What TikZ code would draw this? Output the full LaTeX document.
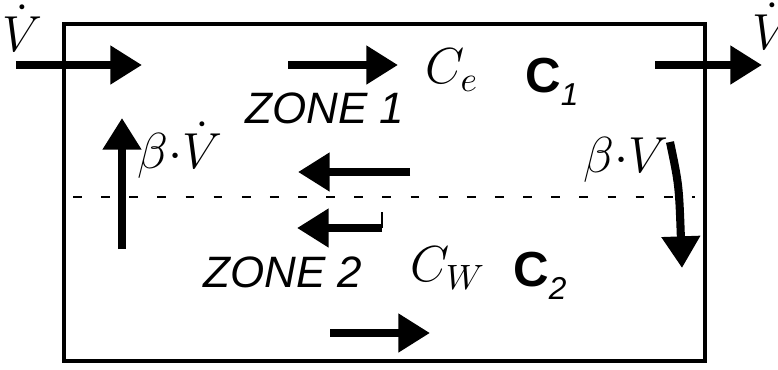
\documentclass[tikz,border=0pt]{standalone}
\usepackage{fontspec}
\setsansfont{Liberation Sans}
\usetikzlibrary{arrows.meta}

\tikzset{
  flow/.style={line width=2.3pt,-{Triangle[length=9pt,width=10.5pt]}},
  zonetext/.style={font=\fontsize{12.5}{14}\selectfont\sffamily\itshape},
  conctext/.style={font=\fontsize{14}{16}\selectfont},
  meantext/.style={font=\fontsize{14}{16}\selectfont\sffamily\bfseries},
  ratetext/.style={font=\fontsize{14}{16}\selectfont}
}

\begin{document}
\begin{tikzpicture}[x=0.01cm,y=-0.01cm]
  \useasboundingbox (0,0) rectangle (778,369);
  %% Vessel outline
  \draw[line width=0.9pt] (64,24) rectangle (705,361);
  %% Boundary between the two zones
  \draw[line width=0.5pt,dash pattern=on 2.5pt off 5.5pt] (73,197) -- (695,197);
  %% Inlet and outlet
  \draw[flow] (16,65) -- (142,65);
  \node[ratetext] (vin) at (22,28) {$\dot V$};
  \draw[flow] (655,65) -- (762,65);
  \node[ratetext] (vout) at (772,26) {$\dot V$};
  %% Zone 1
  \draw[flow] (288,65) -- (398,65);
  \node[conctext] (ce) at (452,70) {$C_e$};
  \node[meantext] (c1) at (552,82) {C\raisebox{-0.5ex}{\fontsize{9}{9}\selectfont\mdseries\itshape 1}};
  \node[zonetext] (zone1) at (325,108) {ZONE 1};
  \draw[flow] (410,172) -- (298,172);
  %% Exchange between the zones
  \draw[flow] (122,249) -- (122,118);
  \node[ratetext] (bvl) at (180,150) {$\beta{\cdot}\dot V$};
  \draw[flow] (670,142) .. controls (679,185) .. (682,268);
  \node[ratetext] (bvr) at (626,160) {$\beta{\cdot}V$};
  %% Zone 2
  \draw[flow] (382,228) -- (297,228);
  \draw[line width=0.5pt] (382,228) -- (382,212);
  \node[zonetext] (zone2) at (283,272) {ZONE 2};
  \node[conctext] (cw) at (448,268) {$C_W$};
  \node[meantext] (c2) at (540,276) {C\raisebox{-0.5ex}{\fontsize{9}{9}\selectfont\mdseries\itshape 2}};
  \draw[flow] (330,333) -- (430,333);
\end{tikzpicture}
\end{document}
